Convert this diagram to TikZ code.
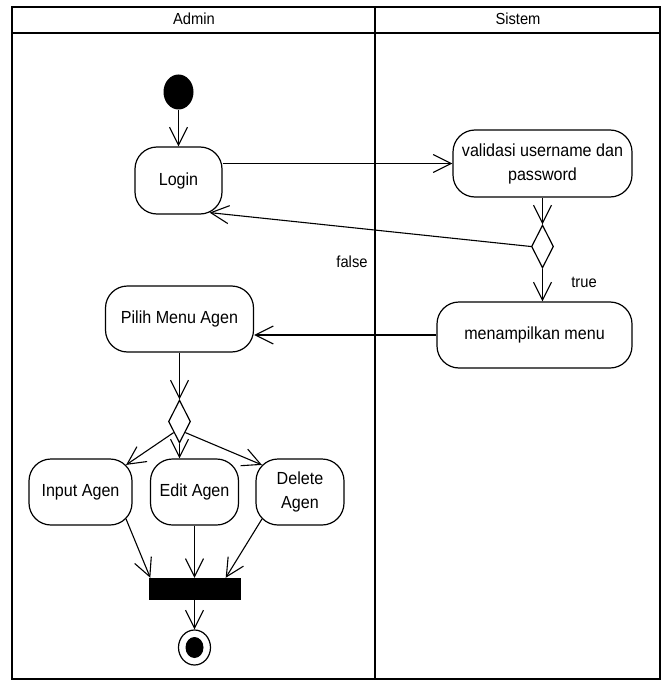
\documentclass[tikz,border=0pt]{standalone}
\usepackage{fontspec}
\setmainfont{Liberation Sans}[FakeStretch=0.92]
\usetikzlibrary{shapes.geometric,arrows.meta,calc}

\begin{document}
\begin{tikzpicture}[x=1pt,y=-1pt,
  act/.style={draw, line width=1.2pt, rounded corners=22pt, align=center,
    inner sep=0pt, font=\fontsize{17.5}{24}\selectfont},
  flow/.style={line width=1.1pt,
    -{Straight Barb[length=18pt,width=18pt,line width=1.1pt]}},
  dec/.style={draw, diamond, line width=1.2pt, minimum width=22pt,
    minimum height=43pt, inner sep=0pt},
  lane/.style={line width=2.4pt},
  lbl/.style={font=\fontsize{16}{19}\selectfont}
]
\useasboundingbox (0,0) rectangle (669,682);

% swimlanes
\draw[lane] (12,7) rectangle (660,679);
\draw[lane] (12,33) -- (660,33);
\draw[lane] (375,7) -- (375,679);
\node[lbl] (hA) at (194,19) {Admin};
\node[lbl] (hS) at (518,19) {Sistem};

% activities
\node[fill, ellipse, minimum width=30pt, minimum height=35pt, inner sep=0pt] (start) at (178.5,92) {};
\node[act, minimum width=87pt, minimum height=67pt] (login) at (178.5,180.5) {Login};
\node[act, minimum width=179pt, minimum height=67pt] (valid) at (542.5,163.5) {validasi username dan\\password};
\node[dec] (d1) at (542.5,246.5) {};
\node[act, minimum width=195pt, minimum height=66pt] (menu) at (534.5,335) {menampilkan menu};
\node[act, minimum width=148pt, minimum height=66pt] (pilih) at (179.5,319) {Pilih Menu Agen};
\node[dec] (d2) at (179.5,421.5) {};
\node[act, minimum width=103pt, minimum height=66pt] (input) at (80.5,492) {Input Agen};
\node[act, minimum width=88pt, minimum height=66pt] (edit) at (194.5,492) {Edit Agen};
\node[act, minimum width=88pt, minimum height=66pt] (delete) at (300,492) {Delete\\Agen};
\node[fill, minimum width=92pt, minimum height=22pt, inner sep=0pt] (bar) at (194.5,589) {};
\node[draw, ellipse, line width=1.2pt, minimum width=32pt, minimum height=35pt, inner sep=0pt] (final) at (194.5,647.5) {};
\node[fill, ellipse, minimum width=18pt, minimum height=21pt, inner sep=0pt] (finalin) at (final) {};

% control flow
\draw[flow] (start) -- (login);
\draw[flow] (login.east |- valid.west) -- (valid.west);
\draw[flow] (valid.south) -- (d1.north);
\draw[flow] (d1.west) -- ($(login.south east)+(-13,-2)$);
\node[lbl] (false) at (352,262) {false};
\draw[flow] (d1.south) -- (d1.south |- menu.north);
\node[lbl] (true) at (584,282) {true};
\draw[flow] (menu.west) -- (menu.west -| pilih.east);
\draw[flow] (pilih.south) -- (d2.north);
\draw[flow] (d2.south west) -- ($(input.north east)+(-6.5,6.5)$);
\draw[flow] (d2.south) -- (d2.south |- edit.north);
\draw[flow] (d2.south east) -- ($(delete.north west)+(6.5,6.5)$);
\draw[flow] ($(input.south east)+(-6.5,-6.5)$) -- ($(bar.north west)+(2,0)$);
\draw[flow] (edit.south) -- (edit.south |- bar.north);
\draw[flow] ($(delete.south west)+(6.5,-6.5)$) -- ($(bar.north east)+(-15,0)$);
\draw[flow] (bar.south) -- (final.north);
\end{tikzpicture}
\end{document}
